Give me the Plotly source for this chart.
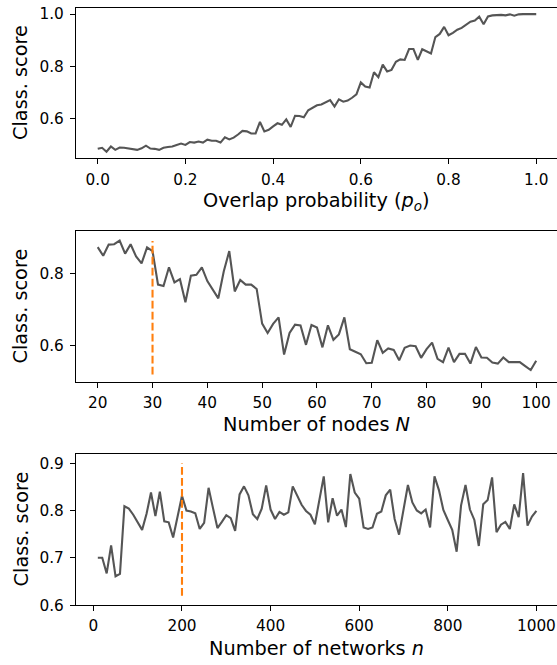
import plotly.graph_objects as go

# ---------------- data ----------------
overlap_prob = [i / 100 for i in range(101)]
score_overlap = [
    0.483, 0.487, 0.472, 0.492, 0.479, 0.488, 0.487, 0.484, 0.480, 0.479,
    0.485, 0.495, 0.484, 0.483, 0.479, 0.487, 0.490, 0.492, 0.498, 0.503,
    0.498, 0.509, 0.507, 0.511, 0.507, 0.518, 0.514, 0.514, 0.507, 0.527,
    0.519, 0.526, 0.538, 0.552, 0.550, 0.542, 0.542, 0.586, 0.550, 0.556,
    0.569, 0.581, 0.575, 0.596, 0.567, 0.610, 0.609, 0.604, 0.631, 0.641,
    0.650,
    0.653, 0.661, 0.670, 0.645, 0.673, 0.664, 0.668, 0.679, 0.692, 0.738,
    0.722, 0.718, 0.777, 0.758, 0.806, 0.780, 0.786, 0.817, 0.826, 0.824,
    0.866, 0.866, 0.824, 0.865, 0.858, 0.849, 0.912, 0.924, 0.951, 0.919,
    0.928, 0.940, 0.947, 0.958, 0.971, 0.975, 0.990, 0.961, 0.991, 0.995,
    0.996, 0.997, 0.995, 0.999, 0.994, 0.999, 1.000, 1.000, 1.000, 1.000,
]

num_nodes = list(range(20, 101))
score_nodes = [
    0.873, 0.849, 0.880, 0.881, 0.891, 0.855, 0.881, 0.847, 0.828, 0.872,
    0.862, 0.769, 0.765, 0.817, 0.775, 0.784, 0.720, 0.794, 0.796, 0.817,
    0.779, 0.753, 0.731, 0.806, 0.862, 0.750, 0.782, 0.769, 0.769, 0.757,
    0.661, 0.635, 0.660, 0.678, 0.575, 0.635, 0.658, 0.656, 0.602, 0.657,
    0.650, 0.595, 0.656, 0.616, 0.631, 0.678, 0.590, 0.583, 0.576, 0.551,
    0.552, 0.615, 0.580, 0.592, 0.588, 0.559, 0.594, 0.600, 0.598, 0.566,
    0.590, 0.608, 0.563, 0.554, 0.594, 0.554, 0.577, 0.577, 0.550, 0.596,
    0.567, 0.566, 0.553, 0.550, 0.567, 0.554, 0.554, 0.554, 0.543, 0.532,
    0.558,
]
nodes_marker_x = [30, 30]
nodes_marker_y = [0.52, 0.89]

num_networks = list(range(10, 1001, 10))
score_networks = [
    0.700, 0.700, 0.667, 0.726, 0.661, 0.666, 0.809, 0.804, 0.791, 0.776,
    0.759, 0.793, 0.838, 0.788, 0.840, 0.777, 0.775, 0.743, 0.785, 0.831,
    0.800, 0.798, 0.794, 0.761, 0.774, 0.848, 0.805, 0.763, 0.776, 0.790,
    0.784, 0.757, 0.834, 0.851, 0.832, 0.792, 0.782, 0.804, 0.853, 0.802,
    0.782, 0.797, 0.791, 0.796, 0.851, 0.832, 0.812, 0.799, 0.791, 0.771,
    0.822, 0.872, 0.775, 0.826, 0.789, 0.802, 0.765, 0.877, 0.838, 0.825,
    0.764, 0.761, 0.764, 0.793, 0.798, 0.832, 0.844, 0.782, 0.749, 0.804,
    0.854, 0.817, 0.800, 0.794, 0.802, 0.764, 0.872, 0.843, 0.801, 0.780,
    0.759, 0.713, 0.811, 0.854, 0.802, 0.780, 0.725, 0.813, 0.822, 0.870,
    0.754, 0.770, 0.776, 0.761, 0.813, 0.786, 0.879, 0.768, 0.787, 0.799,
]
networks_marker_x = [200, 200]
networks_marker_y = [0.62, 0.90]

x_titles = ["Overlap probability (<i>p</i><sub><i>o</i></sub>)",
            "Number of nodes <i>N</i>",
            "Number of networks <i>n</i>"]
y_title = "Class. score"

# ---------------- figure ----------------
W, H = 557, 665
LINE = "#555555"
ORANGE = "#ff7f0e"
FONT = "DejaVu Sans"
TICK_FS = 15.3
LABEL_FS = 19.3

fig = go.Figure()
fig.add_trace(go.Scatter(x=overlap_prob, y=score_overlap, mode="lines",
                         line=dict(color=LINE, width=2.1), xaxis="x", yaxis="y"))
fig.add_trace(go.Scatter(x=num_nodes, y=score_nodes, mode="lines",
                         line=dict(color=LINE, width=2.1), xaxis="x2", yaxis="y2"))
fig.add_trace(go.Scatter(x=nodes_marker_x, y=nodes_marker_y, mode="lines",
                         line=dict(color=ORANGE, width=2.1, dash="7.7px,3.3px"),
                         xaxis="x2", yaxis="y2"))
fig.add_trace(go.Scatter(x=num_networks, y=score_networks, mode="lines",
                         line=dict(color=LINE, width=2.1), xaxis="x3", yaxis="y3"))
fig.add_trace(go.Scatter(x=networks_marker_x, y=networks_marker_y, mode="lines",
                         line=dict(color=ORANGE, width=2.1, dash="7.7px,3.3px"),
                         xaxis="x3", yaxis="y3"))

left_px = 75.8
panels = [  # (top px, bottom px)
    (5.7, 159.0),
    (233.3, 386.0),
    (459.3, 613.3),
]

def ydom(top, bot):
    return [(H - bot) / H, (H - top) / H]

axis_common = dict(
    showline=True, linecolor="black", linewidth=1.1,
    ticks="outside", ticklen=4.9, tickwidth=1.1, tickcolor="black",
    showgrid=False, zeroline=False,
    tickfont=dict(family=FONT, size=TICK_FS, color="black"),
)

xranges = [
    [-0.05, -0.05 + (W - left_px) / 438.5],
    [16.0, 16.0 + (W - left_px) / 5.481],
    [-39.7, -39.7 + (W - left_px) / 0.443],
]
yranges = [[0.4464, 1.0249], [0.5, 0.9165], [0.6, 0.92]]
xticks = [
    dict(tickvals=[0, 0.2, 0.4, 0.6, 0.8, 1.0], ticktext=["0.0", "0.2", "0.4", "0.6", "0.8", "1.0"]),
    dict(tickvals=list(range(20, 101, 10))),
    dict(tickvals=[0, 200, 400, 600, 800, 1000]),
]
yticks = [
    dict(tickvals=[0.6, 0.8, 1.0], ticktext=["0.6", "0.8", "1.0"]),
    dict(tickvals=[0.6, 0.8], ticktext=["0.6", "0.8"]),
    dict(tickvals=[0.6, 0.7, 0.8, 0.9], ticktext=["0.6", "0.7", "0.8", "0.9"]),
]

layout = dict(
    width=W, height=H, margin=dict(l=0, r=0, t=0, b=0),
    paper_bgcolor="white", plot_bgcolor="white", showlegend=False,
    font=dict(family=FONT, color="black"),
)
annotations = []
for i, (top, bot) in enumerate(panels):
    sfx = "" if i == 0 else str(i + 1)
    layout["xaxis" + sfx] = dict(
        axis_common, domain=[left_px / W, 1.0], range=xranges[i],
        anchor="y" + sfx, mirror=True, ticklabelstandoff=2, **xticks[i])
    layout["yaxis" + sfx] = dict(
        axis_common, domain=ydom(top, bot), range=yranges[i],
        anchor="x" + sfx, mirror=False, ticklabelstandoff=3, **yticks[i])
    annotations.append(dict(
        text=y_title, textangle=-90, xref="paper", yref="paper",
        x=21 / W, y=1 - ((top + bot) / 2) / H, xanchor="center", yanchor="middle",
        showarrow=False, font=dict(family=FONT, size=LABEL_FS, color="black")))
    annotations.append(dict(
        text=x_titles[i], xref="paper", yref="paper",
        x=(left_px + 558) / 2 / W, y=1 - (bot + 44) / H, xanchor="center", yanchor="middle",
        showarrow=False, font=dict(family=FONT, size=LABEL_FS, color="black")))
layout["annotations"] = annotations
fig.update_layout(**layout)
fig.write_html("out.html")
